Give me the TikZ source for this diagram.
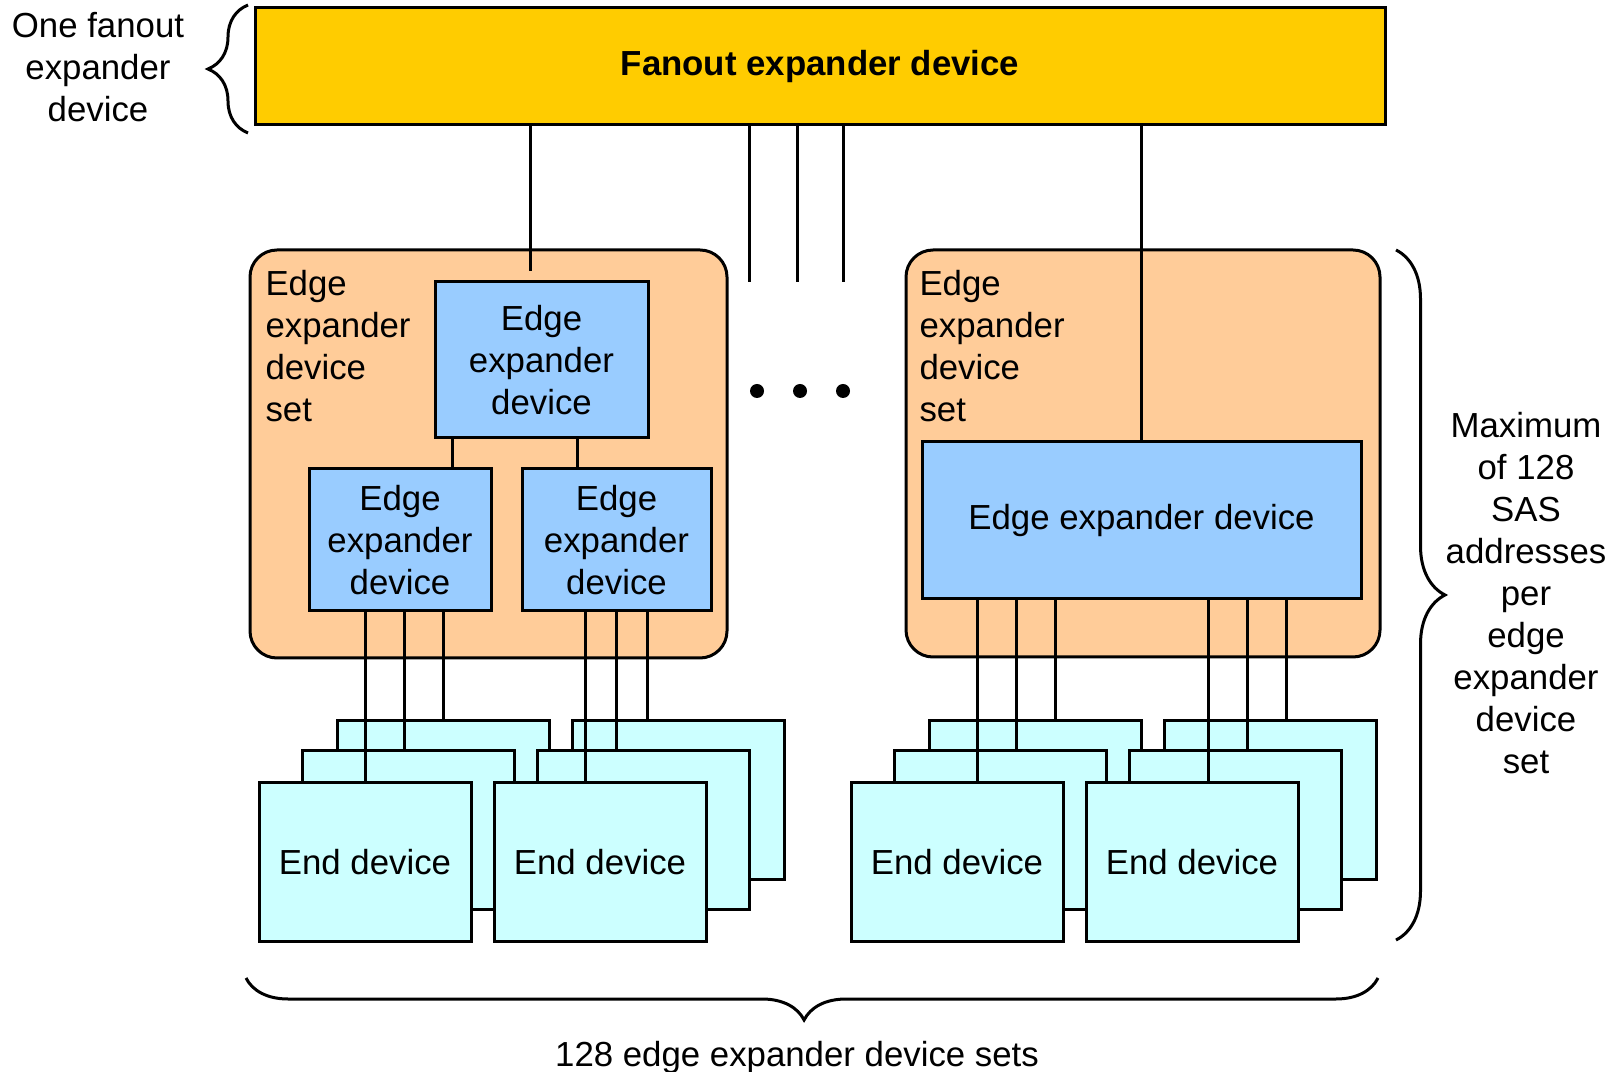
\documentclass[tikz,border=0pt]{standalone}
\usepackage{fontspec}
\setmainfont{Liberation Sans}
\usetikzlibrary{positioning}
\usetikzlibrary{decorations.pathreplacing}
\definecolor{fanyellow}{HTML}{FFCC00}
\definecolor{setorange}{HTML}{FFCC99}
\definecolor{expblue}{HTML}{99CCFF}
\definecolor{endcyan}{HTML}{CCFFFF}
\tikzset{txt/.style={inner sep=0pt, font=\fontsize{34.8}{42}\selectfont}}
\tikzset{fanbox/.style={draw, fill=fanyellow, inner sep=0pt, minimum width=1130pt, minimum height=117pt, font=\fontsize{34.8}{42}\selectfont\bfseries}}
\tikzset{grp/.style={draw, fill=setorange, rounded corners=27pt, inner sep=0pt}}
\tikzset{expbox/.style={draw, fill=expblue, inner sep=0pt, align=center, font=\fontsize{34.8}{42}\selectfont}}
\tikzset{endbox/.style={draw, fill=endcyan, inner sep=0pt, minimum width=212pt, minimum height=158pt, font=\fontsize{34.8}{42}\selectfont}}
\tikzset{brc/.style={decorate, decoration={brace, amplitude=#1}}}

\begin{document}
\begin{tikzpicture}[x=1pt, y=1pt, line width=3pt]
\useasboundingbox (0,0) rectangle (1621,1071);

% fanout expander
\node[fanbox] (fan) at (820,1004.5) {Fanout expander device};
\node[txt, align=center] (fanlbl) at (98,1004) {One fanout\\expander\\device};
\coordinate (fb1) at (248,938);
\coordinate (fb2) at (248,1066);
\draw[brc=40pt] (fb1) -- (fb2);

% left set
\node[grp, minimum width=477pt, minimum height=408pt] (setL) at (488.5,617) {};
\node[txt, align=left, anchor=west] (setLlbl) at (264,724.5) {Edge\\expander\\device\\set};
\node[expbox, minimum width=213pt, minimum height=156pt] (eT) at (541.5,711) {Edge\\expander\\device};
\node[expbox, minimum width=182pt, minimum height=142pt] (eL) at (400,531) {Edge\\expander\\device};
\node[expbox, minimum width=189pt, minimum height=142pt] (eR) at (616.5,531) {Edge\\expander\\device};

% right set
\node[grp, minimum width=474pt, minimum height=407pt] (setR) at (1143,617.5) {};
\node[txt, align=left, anchor=west] (setRlbl) at (918,724.5) {Edge\\expander\\device\\set};
\node[expbox, minimum width=439pt, minimum height=157pt] (eBig) at (1141.5,550.5) {Edge expander device};

% end devices
\begin{scope}[on grid]
\node[endbox] (dA3) at (443,271) {};
\node[endbox] (dA2) [below left = 30 and 35 of dA3] {};
\node[endbox] (dA1) [below left = 32 and 43 of dA2] {End device};
\node[endbox] (dB3) at (678,271) {};
\node[endbox] (dB2) [below left = 30 and 35 of dB3] {};
\node[endbox] (dB1) [below left = 32 and 43 of dB2] {End device};
\node[endbox] (dC3) at (1035,271) {};
\node[endbox] (dC2) [below left = 30 and 35 of dC3] {};
\node[endbox] (dC1) [below left = 32 and 43 of dC2] {End device};
\node[endbox] (dD3) at (1270,271) {};
\node[endbox] (dD2) [below left = 30 and 35 of dD3] {};
\node[endbox] (dD1) [below left = 32 and 43 of dD2] {End device};
\end{scope}

% links
\coordinate (tT) at ([xshift=-11.5pt]eT.north);
\draw[shorten >=9pt] (tT |- fan.south) -- (tT);
\draw (eBig.north |- fan.south) -- (eBig.north);
\coordinate (s1) at (749,789);
\coordinate (s2) at (797,789);
\coordinate (s3) at (843,789);
\draw (s1 |- fan.south) -- (s1);
\draw (s2 |- fan.south) -- (s2);
\draw (s3 |- fan.south) -- (s3);
\coordinate (c1) at ([xshift=52pt]eL.north);
\coordinate (c2) at ([xshift=-39.5pt]eR.north);
\draw (c1) -- (c1 |- eT.south);
\draw (c2) -- (c2 |- eT.south);
\foreach \e/\d/\s in {eL/dA1/-35, eL/dA2/4, eL/dA3/43, eR/dB1/-31.5, eR/dB2/0, eR/dB3/30.5,
  eBig/dC1/-164.5, eBig/dC2/-125.5, eBig/dC3/-86.5, eBig/dD1/66.5, eBig/dD2/105.5, eBig/dD3/144.5} {
  \coordinate (p) at ([xshift=\s pt]\e.south);
  \draw (p) -- (p |- \d.north);
}

% dots
\fill (757,680) circle (7);
\fill (800,680) circle (7);
\fill (843,680) circle (7);

% braces
\coordinate (rb1) at (1396,821);
\coordinate (rb2) at (1396,131);
\draw[brc=49pt] (rb1) -- (rb2);
\node[txt, align=center] (maxlbl) at (1526,478) {Maximum\\of 128\\SAS\\addresses\\per\\edge\\expander\\device\\set};
\coordinate (bb1) at (1378,93);
\coordinate (bb2) at (246,93);
\draw[brc=42pt, decoration={aspect=0.507}] (bb1) -- (bb2);
\node[txt, anchor=base] (setslbl) at (797,5) {128 edge expander device sets};
\end{tikzpicture}
\end{document}
